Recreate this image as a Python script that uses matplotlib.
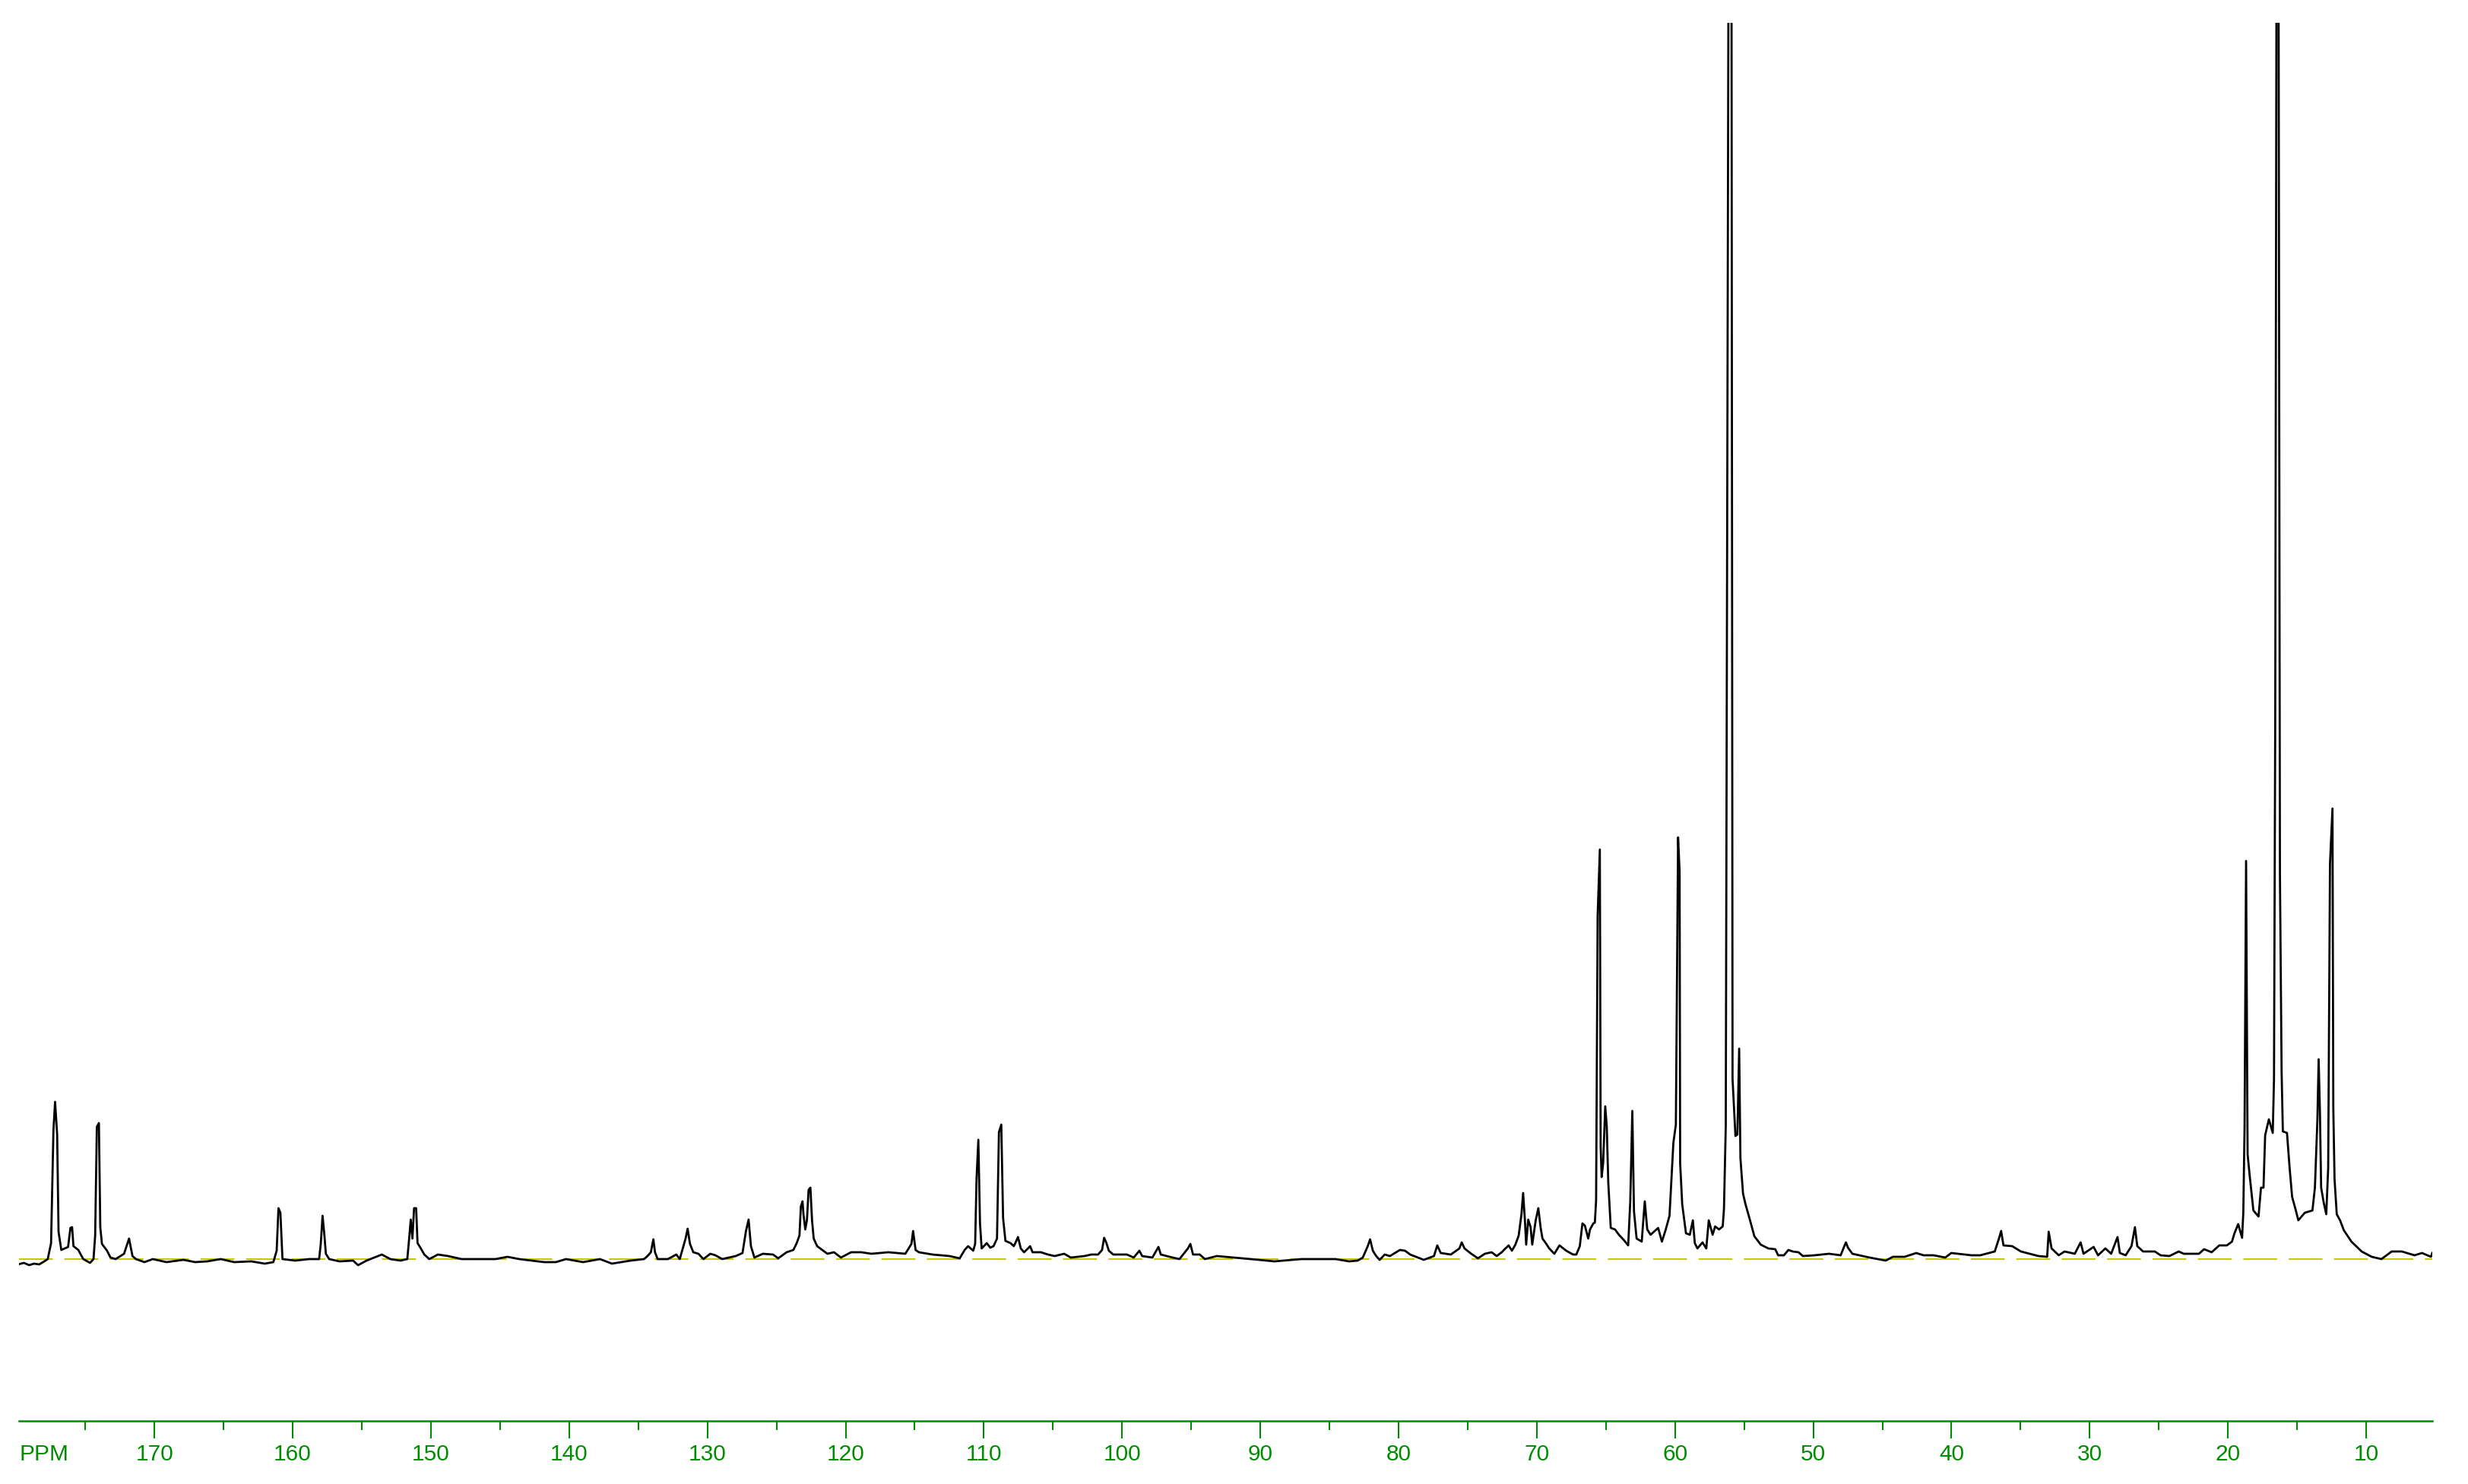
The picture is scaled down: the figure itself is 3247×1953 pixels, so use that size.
import numpy as np
import matplotlib.pyplot as plt

plt.rcParams["font.family"] = ["Liberation Sans", "DejaVu Sans"]
plt.rcParams["lines.scale_dashes"] = False

# 13C trace: shift in ppm, intensity in px above the baseline.
# values above CLIP_TOP are peaks that run off the top of the plot
ppm_carbonyl = [179.88, 179.44, 179.07, 178.71, 178.34, 177.97, 177.72, 177.48, 177.31, 177.19,
                177.04, 176.94, 176.74, 176.25, 176.08, 175.96, 175.86, 175.51, 175.15, 174.66,
                174.41, 174.29, 174.17, 174.02, 173.92, 173.80, 173.43, 173.18, 172.81, 172.20,
                171.84, 171.59, 171.34, 170.73, 170.12, 169.13, 167.91, 167.05, 166.19, 165.21,
                164.23, 163.00, 162.02, 161.40, 161.16, 161.03, 160.89, 160.74, 159.81, 158.82,
                158.09, 157.97, 157.84, 157.72, 157.60, 157.36, 156.62, 155.63, 155.27, 154.66,
                153.55, 152.94, 152.20, 151.71, 151.59, 151.46, 151.34, 151.22, 151.07, 150.97,
                150.73, 150.48, 150.12, 149.50, 148.76, 147.78, 146.80, 145.33, 144.47, 143.61]
int_carbonyl = [-7, -5, -8, -6, -7, -3, 0, 21, 169, 207,
                164, 36, 12, 16, 41, 42, 17, 12, 0, -5,
                0, 31, 174, 179, 42, 20, 11, 2, 0, 7,
                27, 4, 0, -4, 0, -4, -1, -4, -3, 0,
                -4, -3, -6, -4, 11, 67, 61, 0, -2, 0,
                0, 20, 57, 34, 7, 0, -3, -2, -8, -2,
                6, 0, -2, 0, 24, 52, 27, 67, 67, 21,
                14, 6, 0, 6, 4, 0, 0, 0, 3, 0]

ppm_aromatic = [141.82, 140.96, 140.23, 139.00, 137.77, 136.91, 135.56, 134.58, 134.33, 134.09,
                133.91, 133.79, 133.60, 132.86, 132.25, 132.00, 131.58, 131.43, 131.26, 131.02,
                130.65, 130.29, 129.79, 129.42, 128.93, 127.95, 127.46, 127.21, 127.02, 126.85,
                126.60, 125.99, 125.25, 124.88, 124.27, 123.78, 123.54, 123.34, 123.24, 123.12,
                123.05, 122.92, 122.80, 122.68, 122.55, 122.43, 122.31, 122.06, 121.69, 121.32,
                120.84, 120.34, 119.61, 118.87, 118.14, 116.91, 115.68, 115.24, 115.12, 114.94,
                114.70, 113.72, 112.49, 111.75, 111.39, 111.14, 110.77, 110.63, 110.53, 110.40,
                110.28, 110.16, 109.79, 109.54, 109.30, 109.05, 108.91, 108.74, 108.61, 108.44,
                108.07, 107.83, 107.53, 107.33, 107.09, 106.65, 106.48, 105.87, 105.37, 104.88]
int_aromatic = [-4, -4, 0, -4, 0, -6, -2, 0, 4, 9,
                26, 9, 0, 0, 6, 0, 27, 40, 20, 9,
                7, 0, 7, 5, 0, 4, 8, 37, 52, 17,
                2, 7, 6, 1, 9, 12, 21, 31, 69, 76,
                59, 39, 51, 91, 94, 51, 27, 17, 12, 7,
                9, 2, 9, 9, 7, 9, 7, 20, 37, 12,
                9, 6, 4, 1, 12, 17, 11, 20, 106, 157,
                47, 14, 21, 15, 17, 27, 167, 177, 54, 24,
                21, 17, 29, 14, 9, 17, 9, 9, 6, 4]

ppm_mid = [104.19, 103.71, 102.72, 102.23, 101.74, 101.45, 101.30, 101.13, 100.96, 100.64,
           99.65, 99.16, 98.75, 98.55, 97.81, 97.37, 97.20, 96.34, 95.85, 95.24,
           95.06, 94.87, 94.38, 94.01, 93.15, 91.93, 90.70, 88.98, 87.02, 85.54,
           84.56, 83.58, 82.96, 82.59, 82.23, 82.06, 81.86, 81.62, 81.37, 81.00,
           80.63, 79.90, 79.53, 79.16, 78.18, 77.44, 77.20, 76.95, 76.22, 75.60,
           75.43, 75.23, 74.74, 74.26, 73.76, 73.27, 72.90, 72.54, 72.04, 71.80,
           71.55, 71.31, 71.11, 70.99, 70.86, 70.77, 70.62, 70.45, 70.33, 70.08,
           69.89, 69.72, 69.59, 69.35, 69.10, 68.73, 68.36, 67.87, 67.38, 67.14,
           66.89, 66.70, 66.52, 66.28, 66.15, 65.91]
int_mid = [7, 2, 4, 6, 6, 12, 28, 21, 11, 6,
           6, 2, 11, 4, 2, 16, 6, 2, 0, 14,
           20, 6, 6, 0, 4, 2, 0, -3, 0, 0,
           0, -3, -2, 2, 17, 26, 11, 4, -1, 6,
           4, 12, 11, 6, -1, 4, 18, 8, 6, 14,
           22, 14, 7, 1, 7, 9, 4, 9, 18, 11,
           19, 31, 59, 87, 51, 19, 52, 42, 19, 51,
           67, 41, 27, 21, 14, 7, 18, 11, 6, 6,
           17, 47, 44, 27, 39, 47]

ppm_aliphatic = [65.80, 65.71, 65.60, 65.44, 65.38, 65.31, 65.20, 65.05, 64.94, 64.83,
                 64.65, 64.34, 64.06, 63.70, 63.39, 63.24, 63.09, 62.97, 62.78, 62.41,
                 62.19, 62.01, 61.77, 61.22, 60.95, 60.67, 60.40, 60.12, 59.94, 59.78,
                 59.67, 59.63, 59.48, 59.21, 58.93, 58.71, 58.57, 58.38, 58.01, 57.74,
                 57.56, 57.28, 57.10, 56.82, 56.55, 56.46, 56.33, 56.12, 55.92, 55.84,
                 55.63, 55.49, 55.36, 55.27, 55.08, 54.90, 54.62, 54.26, 53.80, 53.25]
int_aliphatic = [48, 77, 452, 539, 148, 108, 126, 201, 175, 101,
                 41, 39, 32, 25, 18, 75, 195, 63, 27, 23,
                 76, 39, 32, 41, 23, 39, 57, 153, 177, 555,
                 510, 126, 72, 34, 32, 51, 21, 14, 22, 14,
                 51, 32, 43, 39, 43, 66, 175, 1800, 1800, 237,
                 162, 164, 277, 133, 86, 72, 54, 30, 19, 14]

ppm_upfield = [52.75, 52.54, 52.12, 51.80, 51.49, 51.07, 50.75, 49.91, 48.86, 48.02,
               47.64, 47.49, 47.17, 45.92, 44.76, 44.24, 43.39, 42.55, 42.02, 41.29,
               40.45, 40.02, 38.55, 37.92, 36.87, 36.55, 36.41, 36.24, 35.61, 34.98,
               34.55, 33.71, 33.08, 32.97, 32.76, 32.24, 31.82, 31.08, 30.66, 30.45,
               29.72, 29.40, 28.87, 28.45, 27.99, 27.82, 27.40, 26.98, 26.73, 26.56,
               26.14, 25.29, 24.88, 24.24]
int_upfield = [13, 5, 5, 12, 10, 9, 4, 5, 7, 5,
               22, 15, 7, 2, -2, 3, 3, 8, 5, 5,
               2, 8, 5, 5, 10, 28, 37, 18, 17, 10,
               8, 4, 3, 36, 14, 5, 10, 7, 22, 7,
               16, 5, 14, 7, 29, 8, 5, 17, 42, 17,
               10, 10, 5, 4]

ppm_methyl = [23.56, 23.20, 22.10, 21.73, 21.18, 20.63, 20.08, 19.71, 19.53, 19.26,
              18.98, 18.89, 18.80, 18.69, 18.58, 18.43, 18.16, 17.79, 17.61, 17.43,
              17.31, 17.04, 16.76, 16.67, 16.58, 16.48, 16.35, 16.24, 16.12, 16.03,
              15.73, 15.54, 15.36, 15.09, 14.91, 14.44, 13.89, 13.71, 13.53, 13.44,
              13.35, 13.26, 13.07, 12.89, 12.75, 12.62, 12.44, 12.38, 12.29, 12.13,
              11.89, 11.62, 11.07, 10.33, 9.60, 8.90, 8.16, 7.42, 6.51, 5.96,
              5.32, 5.22]
int_methyl = [10, 7, 7, 13, 9, 18, 18, 23, 34, 46,
              28, 61, 173, 524, 138, 110, 64, 56, 94, 94,
              163, 184, 166, 237, 712, 1800, 1800, 505, 247, 168,
              166, 120, 82, 64, 51, 61, 64, 94, 184, 263,
              196, 94, 74, 59, 120, 520, 593, 199, 105, 59,
              51, 38, 23, 10, 3, 0, 10, 10, 5, 8,
              3, 8]

major_ticks = [170, 160, 150, 140, 130, 120, 110, 100, 90, 80, 70, 60, 50, 40, 30, 20, 10]
minor_ticks = [175, 165, 155, 145, 135, 125, 115, 105, 95, 85, 75, 65, 55, 45, 35, 25, 15]
PPM_LEFT, PPM_RIGHT = 179.8, 5.22
CLIP_TOP = 1627

ppm = np.concatenate([ppm_carbonyl, ppm_aromatic, ppm_mid, ppm_aliphatic, ppm_upfield, ppm_methyl])
intensity = np.concatenate([int_carbonyl, int_aromatic, int_mid, int_aliphatic, int_upfield, int_methyl])

W, H = 3248, 1953
GREEN = "#008c00"

fig = plt.figure(figsize=(W / 100, H / 100), dpi=100)

# spectrum: baseline sits at y=1657 px, clip level at y=30 px
ax = fig.add_axes([25 / W, (H - 1750) / H, 3175 / W, 1720 / H])
ax.set_xlim(PPM_LEFT, PPM_RIGHT)
ax.set_ylim(-93, CLIP_TOP)
ax.axis("off")
ax.axhline(0, color="#c8c800", lw=1.5, dashes=(32, 11), zorder=1)
ax.plot(ppm, intensity, color="black", lw=2.0, zorder=2)

# ppm ruler at the bottom
ruler = fig.add_axes([25 / W, (H - 1870) / H, 3175 / W, 1 / H])
ruler.set_xlim(PPM_LEFT, PPM_RIGHT)
ruler.patch.set_alpha(0)
ruler.set_yticks([])
for side in ("top", "left", "right"):
    ruler.spines[side].set_visible(False)
ruler.spines["bottom"].set_color(GREEN)
ruler.spines["bottom"].set_linewidth(1.8)
ruler.set_xticks(major_ticks, [str(t) for t in major_ticks])
ruler.set_xticks(minor_ticks, minor=True)
ruler.tick_params(axis="x", which="major", direction="out", length=16.5, width=1.5,
                  color=GREEN, labelcolor=GREEN, labelsize=21.5, pad=5)
ruler.tick_params(axis="x", which="minor", direction="out", length=8.5, width=1.5, color=GREEN)
ruler.annotate("PPM", xy=(PPM_LEFT, 0), xycoords=("data", "axes fraction"),
               xytext=(0, -21.5), textcoords="offset points",
               ha="left", va="top", fontsize=21.5, color=GREEN)

fig.savefig("out.png", dpi=100)
